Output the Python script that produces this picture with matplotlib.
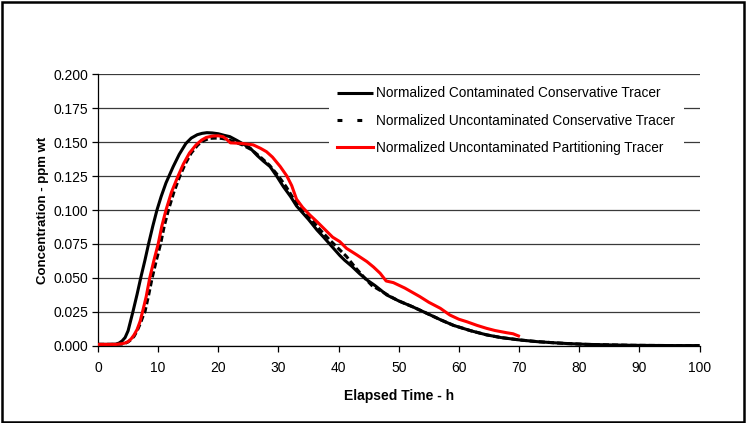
import matplotlib
matplotlib.use("Agg")
import matplotlib.pyplot as plt
from matplotlib.lines import Line2D
from matplotlib.patches import Rectangle

plt.rcParams['font.family'] = ['Liberation Sans', 'DejaVu Sans']

# Normalized Contaminated Conservative Tracer
t_cc = [0, 1, 2, 3, 3.5, 4, 4.5, 5, 5.8, 6.5, 7.1, 7.8, 8.4, 9.1, 9.8, 10.5, 11.3, 11.8,
        12.5, 13.5, 14.6, 15.5, 16.5, 17.3, 18.1, 19, 20, 21, 21.9, 23, 24, 25.3, 26.5,
        27.5, 28.6, 29.7, 30.8, 32, 33, 34, 35, 36.4, 37.5, 39.1, 40.2, 41, 42.2, 43.5,
        44.7, 46, 47, 48, 50, 52.4, 54.6, 57, 59.1, 62, 64.6, 67, 70.2, 73, 75.7, 78,
        81.2, 85, 88.9, 92, 96, 100]
c_cc = [0.001, 0.001, 0.001, 0.0012, 0.002, 0.0035, 0.006, 0.011, 0.025, 0.038, 0.05,
        0.063, 0.075, 0.088, 0.1, 0.11, 0.12, 0.125, 0.132, 0.141, 0.149, 0.153, 0.1555,
        0.1565, 0.157, 0.1568, 0.1562, 0.155, 0.1541, 0.1515, 0.149, 0.1456, 0.140, 0.136,
        0.132, 0.125, 0.1173, 0.110, 0.103, 0.098, 0.093, 0.0853, 0.080, 0.072, 0.0665,
        0.063, 0.0585, 0.053, 0.0485, 0.0445, 0.041, 0.0374, 0.033, 0.0285, 0.024, 0.019,
        0.015, 0.011, 0.008, 0.006, 0.0042, 0.003, 0.0022, 0.0016, 0.001, 0.0006, 0.0003,
        0.0002, 0.0001, 0.0001]

# Normalized Uncontaminated Conservative Tracer
t_uc = [0, 1, 2, 3, 4, 4.5, 5, 5.5, 6, 6.5, 7, 7.5, 7.8, 8.4, 9.0, 9.7, 10.4, 11, 11.7,
        12.6, 13.6, 14.5, 15.5, 16.6, 17.5, 18.5, 19.5, 20.5, 21.5, 22.5, 24, 25.5, 27,
        28.5, 30, 31.3, 32.6, 34, 35.5, 36.9, 38.5, 40, 41.3, 42.7, 44.1, 45.5, 47, 48.5,
        50, 52.4, 54.6, 57, 59.1, 62, 64.6, 67, 70.2, 73, 75.7, 78, 81.2, 85, 88.9, 92,
        96, 100]
c_uc = [0.001, 0.001, 0.001, 0.001, 0.0012, 0.0018, 0.0028, 0.0045, 0.007, 0.011, 0.016,
        0.022, 0.025, 0.037, 0.05, 0.063, 0.075, 0.088, 0.1, 0.113, 0.125, 0.134, 0.142,
        0.148, 0.151, 0.1528, 0.153, 0.1528, 0.152, 0.1505, 0.148, 0.1445, 0.139, 0.133,
        0.125, 0.117, 0.1075, 0.1005, 0.093, 0.0855, 0.078, 0.0715, 0.0658, 0.058, 0.051,
        0.0445, 0.0405, 0.0365, 0.033, 0.0285, 0.024, 0.019, 0.015, 0.011, 0.008, 0.006,
        0.0042, 0.003, 0.0022, 0.0016, 0.001, 0.0006, 0.0003, 0.0002, 0.0001, 0.0001]

# Normalized Uncontaminated Partitioning Tracer
t_up = [0, 1, 2, 3, 4, 4.5, 5, 5.5, 6, 6.5, 7, 7.4, 8, 8.6, 9.3, 10, 10.6, 11.3, 12.2,
        13.3, 14.2, 15.2, 16.3, 17.2, 18, 19, 20, 20.8, 21.4, 22, 23, 24, 25, 25.8, 27,
        28, 29, 30.3, 31.4, 32.2, 33, 34, 35.2, 36.5, 37.5, 39, 40.2, 41.3, 43, 44.7,
        45.8, 46.9, 47.9, 49.1, 51, 53.5, 55, 56.9, 58.5, 60, 61.3, 63, 64.6, 66, 67.9,
        69, 69.9]
c_up = [0.001, 0.001, 0.001, 0.001, 0.0015, 0.002, 0.003, 0.005, 0.008, 0.012, 0.018,
        0.025, 0.036, 0.05, 0.063, 0.075, 0.088, 0.1, 0.113, 0.125, 0.134, 0.142, 0.148,
        0.1515, 0.1535, 0.1545, 0.1547, 0.154, 0.152, 0.1495, 0.1493, 0.149, 0.1485,
        0.148, 0.1455, 0.143, 0.139, 0.132, 0.125, 0.118, 0.108, 0.102, 0.0964, 0.091,
        0.0866, 0.080, 0.0767, 0.0718, 0.067, 0.062, 0.058, 0.0534, 0.0477, 0.0465,
        0.0425, 0.0362, 0.032, 0.0276, 0.0226, 0.0195, 0.0177, 0.015, 0.0128, 0.0112,
        0.0096, 0.0088, 0.0072]

labels = ["Normalized Contaminated Conservative Tracer",
          "Normalized Uncontaminated Conservative Tracer",
          "Normalized Uncontaminated Partitioning Tracer"]
x_ticks = [0, 10, 20, 30, 40, 50, 60, 70, 80, 90, 100]
y_ticks = [0.0, 0.025, 0.05, 0.075, 0.1, 0.125, 0.15, 0.175, 0.2]

fig = plt.figure(figsize=(7.46, 4.23), dpi=100)
ax = fig.add_axes([0.1314, 0.1827, 0.8063, 0.6416])

lw = 2.2
l1, = ax.plot(t_cc, c_cc, color='black', lw=lw, solid_capstyle='butt', zorder=3)
l2, = ax.plot(t_uc, c_uc, color='black', lw=lw, dashes=(2.0, 1.0), zorder=4)
l3, = ax.plot(t_up, c_up, color='#ff0000', lw=lw, zorder=5)

ax.set_xlim(0, 100)
ax.set_ylim(0, 0.2)
ax.set_xticks(x_ticks)
ax.set_yticks(y_ticks)
ax.set_yticklabels([f"{v:.3f}" for v in y_ticks])
ax.yaxis.grid(True, color='#3a3a3a', lw=0.9)
ax.set_axisbelow(True)
for s in ['top', 'right']:
    ax.spines[s].set_visible(False)
for s in ['left', 'bottom']:
    ax.spines[s].set_linewidth(0.9)
ax.tick_params(axis='both', direction='out', length=4, width=0.9, labelsize=10)
ax.tick_params(axis='x', pad=7)
ax.tick_params(axis='y', pad=3)

ax.set_xlabel("Elapsed Time - h", fontsize=10, fontweight='bold', labelpad=10)
ax.set_ylabel("Concentration - ppm wt", fontsize=9.5, fontweight='bold', labelpad=3)

h2 = Line2D([], [], color='black', lw=lw, dashes=(1.6, 4.9))
leg = ax.legend([l1, h2, l3], labels, loc='upper left', bbox_to_anchor=(0.3837, 0.986),
                borderaxespad=0, frameon=True, fancybox=False, framealpha=1,
                facecolor='white', edgecolor='none', fontsize=9.8, handlelength=2.65,
                handletextpad=0.25, labelspacing=0.98, borderpad=0.6)
leg.set_zorder(10)

fig.patches.append(Rectangle((0.003, 0.003), 0.994, 0.993, transform=fig.transFigure,
                             fill=False, edgecolor='black', lw=1.8))

fig.savefig("out.png", dpi=100, facecolor='white')
